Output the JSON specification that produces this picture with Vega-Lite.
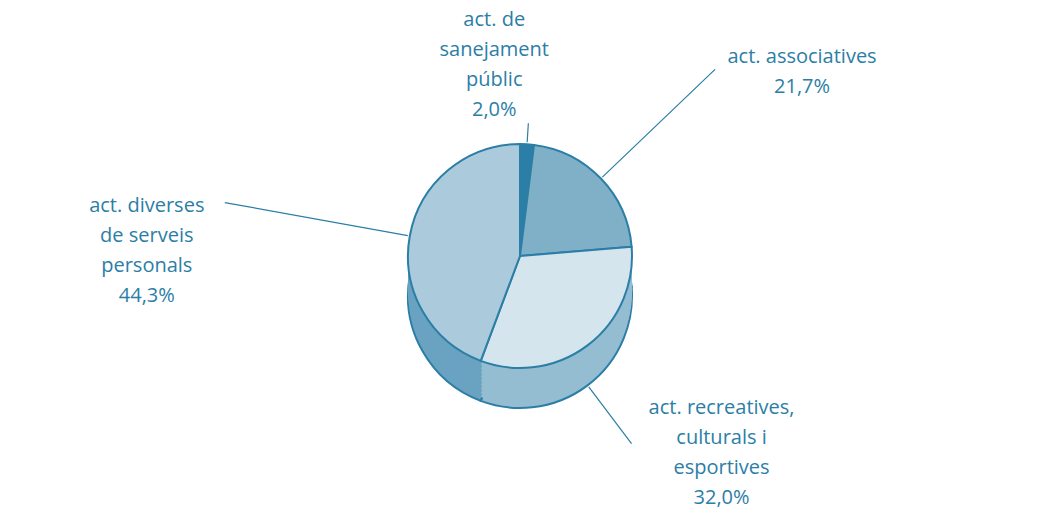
{
  "$schema": "https://vega.github.io/schema/vega-lite/v6.json",
  "width": 1040,
  "height": 512,
  "autosize": {"type": "none"},
  "padding": 0,
  "background": "white",
  "config": {"view": {"stroke": null}},
  "data": {
    "values": [
      {"cat": "sanejament", "v": 2.0, "label": "act. de\nsanejament\npúblic\n2,0%"},
      {"cat": "associatives", "v": 21.7, "label": "act. associatives\n21,7%"},
      {"cat": "recreatives", "v": 32.0, "label": "act. recreatives,\nculturals i\nesportives\n32,0%"},
      {"cat": "diverses", "v": 44.3, "label": "act. diverses\nde serveis\npersonals\n44,3%"}
    ]
  },
  "encoding": {
    "theta": {"field": "v", "type": "quantitative", "stack": true},
    "order": {"field": "v", "type": "quantitative", "sort": "ascending"},
    "detail": {"field": "cat", "type": "nominal"}
  },
  "layer": [
    {
      "mark": {"type": "arc", "radius": 112, "yOffset": 40, "stroke": "#2b7ea6", "strokeWidth": 2},
      "encoding": {"fill": {"field": "cat", "type": "nominal", "legend": null, "scale": {"domain": ["sanejament", "associatives", "recreatives", "diverses"], "range": ["#22688a", "#5f98b6", "#94bdd2", "#6aa3c1"]}}}
    },
    {"mark": {"type": "arc", "radius": 112, "yOffset": 36, "strokeWidth": 0}, "encoding": {"fill": {"field": "cat", "type": "nominal", "legend": null}}},
    {"mark": {"type": "arc", "radius": 112, "yOffset": 32, "strokeWidth": 0}, "encoding": {"fill": {"field": "cat", "type": "nominal", "legend": null}}},
    {"mark": {"type": "arc", "radius": 112, "yOffset": 28, "strokeWidth": 0}, "encoding": {"fill": {"field": "cat", "type": "nominal", "legend": null}}},
    {"mark": {"type": "arc", "radius": 112, "yOffset": 24, "strokeWidth": 0}, "encoding": {"fill": {"field": "cat", "type": "nominal", "legend": null}}},
    {"mark": {"type": "arc", "radius": 112, "yOffset": 20, "strokeWidth": 0}, "encoding": {"fill": {"field": "cat", "type": "nominal", "legend": null}}},
    {"mark": {"type": "arc", "radius": 112, "yOffset": 16, "strokeWidth": 0}, "encoding": {"fill": {"field": "cat", "type": "nominal", "legend": null}}},
    {"mark": {"type": "arc", "radius": 112, "yOffset": 12, "strokeWidth": 0}, "encoding": {"fill": {"field": "cat", "type": "nominal", "legend": null}}},
    {"mark": {"type": "arc", "radius": 112, "yOffset": 8, "strokeWidth": 0}, "encoding": {"fill": {"field": "cat", "type": "nominal", "legend": null}}},
    {"mark": {"type": "arc", "radius": 112, "yOffset": 4, "strokeWidth": 0}, "encoding": {"fill": {"field": "cat", "type": "nominal", "legend": null}}},
    {
      "mark": {"type": "arc", "radius": 112, "stroke": "#2b7ea6", "strokeWidth": 2, "strokeJoin": "round"},
      "encoding": {"color": {"field": "cat", "type": "nominal", "legend": null, "scale": {"domain": ["sanejament", "associatives", "recreatives", "diverses"], "range": ["#2b7ea6", "#7fb0c8", "#d4e5ee", "#abcbdc"]}}}
    },
    {
      "mark": {"type": "arc", "radius": 133, "radius2": 114, "padAngle": 3.1416, "fill": "transparent", "stroke": "#2b7ea6", "strokeWidth": 1.2},
      "encoding": {"strokeOpacity": {"condition": {"test": "datum.cat === 'sanejament'", "value": 1}, "value": 0}}
    },
    {
      "mark": {"type": "arc", "radius": 270, "radius2": 114, "padAngle": 3.1416, "fill": "transparent", "stroke": "#2b7ea6", "strokeWidth": 1.2},
      "encoding": {"strokeOpacity": {"condition": {"test": "datum.cat === 'associatives'", "value": 1}, "value": 0}}
    },
    {
      "mark": {"type": "arc", "radius": 185, "radius2": 114, "yOffset": 40, "padAngle": 3.1416, "fill": "transparent", "stroke": "#2b7ea6", "strokeWidth": 1.2},
      "encoding": {"strokeOpacity": {"condition": {"test": "datum.cat === 'recreatives'", "value": 1}, "value": 0}}
    },
    {
      "mark": {"type": "arc", "radius": 300, "radius2": 114, "padAngle": 3.1416, "fill": "transparent", "stroke": "#2b7ea6", "strokeWidth": 1.2},
      "encoding": {"strokeOpacity": {"condition": {"test": "datum.cat === 'diverses'", "value": 1}, "value": 0}}
    },
    {
      "mark": {"type": "text", "radius": 195, "dx": -38, "dy": -41, "font": "Open Sans", "fontSize": 20, "color": "#2b7ea6", "lineBreak": "\n", "lineHeight": 30, "align": "center", "baseline": "middle"},
      "encoding": {"text": {"field": "label"}, "opacity": {"condition": {"test": "datum.cat === 'sanejament'", "value": 1}, "value": 0}}
    },
    {
      "mark": {"type": "text", "radius": 270, "dx": 87, "dy": -12, "font": "Open Sans", "fontSize": 20, "color": "#2b7ea6", "lineBreak": "\n", "lineHeight": 30, "align": "center", "baseline": "middle"},
      "encoding": {"text": {"field": "label"}, "opacity": {"condition": {"test": "datum.cat === 'associatives'", "value": 1}, "value": 0}}
    },
    {
      "mark": {"type": "text", "radius": 185, "dx": 90, "dy": 4, "font": "Open Sans", "fontSize": 20, "color": "#2b7ea6", "lineBreak": "\n", "lineHeight": 30, "align": "center", "baseline": "middle"},
      "encoding": {"text": {"field": "label"}, "opacity": {"condition": {"test": "datum.cat === 'recreatives'", "value": 1}, "value": 0}}
    },
    {
      "mark": {"type": "text", "radius": 300, "dx": -78, "dy": 3, "font": "Open Sans", "fontSize": 20, "color": "#2b7ea6", "lineBreak": "\n", "lineHeight": 30, "align": "center", "baseline": "middle"},
      "encoding": {"text": {"field": "label"}, "opacity": {"condition": {"test": "datum.cat === 'diverses'", "value": 1}, "value": 0}}
    }
  ]
}
